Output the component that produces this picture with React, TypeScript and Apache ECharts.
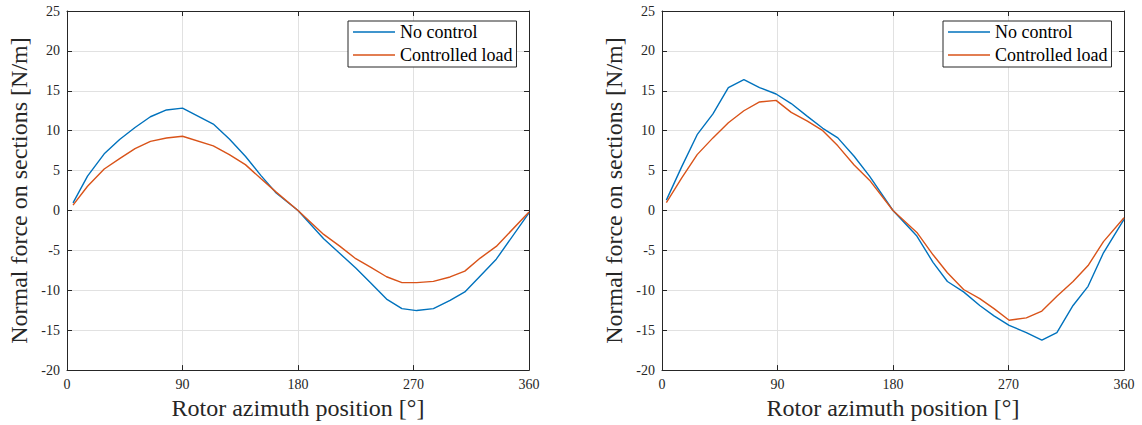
import React, { useEffect, useRef } from "react";
import * as echarts from "echarts";

// Rotor azimuth angles [deg] and normal force [N/m], left panel
const anglesLeft = [4.7, 16, 29, 41, 53, 65, 77.5, 90, 114, 126.5, 139, 151, 163, 180, 200, 212, 225, 236.5, 249, 261, 272.5, 285.5, 298.5, 310, 322, 334.5, 360];
const noControlLeft = [0.96, 4.3, 7.1, 8.9, 10.4, 11.75, 12.6, 12.83, 10.83, 8.96, 6.8, 4.4, 2.2, 0, -3.54, -5.3, -7.2, -9.04, -11.1, -12.3, -12.54, -12.3, -11.25, -10.2, -8.2, -6.1, -0.3];
const controlledLeft = [0.67, 3.04, 5.2, 6.5, 7.75, 8.67, 9.08, 9.3, 8.1, 7.0, 5.75, 4.0, 2.3, 0, -3.0, -4.4, -6.04, -7.1, -8.3, -9.04, -9.04, -8.88, -8.33, -7.6, -5.96, -4.5, -0.2];

// Right panel
const anglesRight = [3.4, 15.4, 27.4, 39.7, 51.7, 63.8, 76, 88.9, 100.7, 113.3, 125.3, 137, 149.7, 161.7, 180, 198.6, 211.2, 222.4, 235, 247.6, 258.7, 270.5, 283.9, 296, 307.7, 320.3, 332, 344, 360];
const noControlRight = [1.3, 5.5, 9.5, 12.1, 15.4, 16.4, 15.4, 14.6, 13.4, 11.8, 10.3, 9.1, 6.8, 4.3, 0, -3.2, -6.5, -8.9, -10.2, -11.9, -13.2, -14.4, -15.3, -16.25, -15.3, -11.9, -9.5, -5.3, -1.1];
const controlledRight = [1.0, 4.1, 7.0, 9.1, 11.0, 12.5, 13.6, 13.8, 12.3, 11.2, 10.0, 8.1, 5.7, 3.8, 0, -2.75, -5.55, -7.8, -9.9, -11.05, -12.3, -13.75, -13.45, -12.6, -10.75, -8.9, -6.9, -3.9, -0.9];

const xTicks = { min: 0, max: 360, interval: 90 };
const yTicks = { min: -20, max: 25, interval: 5 };

const seriesNames = ["No control", "Controlled load"];
const colors = ["#0072BD", "#D95319"];

const FONT = "Liberation Serif";
const AXIS_COLOR = "#262626";
const GRID_COLOR = "#e1e1e1";

const pairs = (xs: number[], ys: number[]) => xs.map((x, i) => [x, ys[i]]);

export default function App() {
  const ref = useRef<HTMLDivElement>(null);

  useEffect(() => {
    if (!ref.current) return;
    const chart = echarts.init(ref.current, undefined, { renderer: "svg" });

    const grids = [
      { left: 67, top: 11, width: 462, height: 361 },
      { left: 662, top: 11, width: 462, height: 361 },
    ];

    const frameLine = { show: true, onZero: false, lineStyle: { color: AXIS_COLOR, width: 1 } };
    const innerTick = { show: true, inside: true, length: 5, lineStyle: { color: AXIS_COLOR } };
    const tickLabel = { fontFamily: FONT, fontSize: 14, color: AXIS_COLOR, margin: 7 };
    const titleStyle = { fontFamily: FONT, fontSize: 24, color: AXIS_COLOR };

    const xAxis: any[] = [];
    const yAxis: any[] = [];
    grids.forEach((_, g) => {
      xAxis.push({
        type: "value",
        gridIndex: g,
        position: "bottom",
        ...xTicks,
        name: "Rotor azimuth position [°]",
        nameLocation: "middle",
        nameGap: 23,
        nameTextStyle: titleStyle,
        axisLine: frameLine,
        axisTick: innerTick,
        axisLabel: tickLabel,
        splitLine: { show: true, lineStyle: { color: GRID_COLOR, width: 1 } },
      });
      xAxis.push({
        type: "value",
        gridIndex: g,
        position: "top",
        ...xTicks,
        axisLine: frameLine,
        axisTick: innerTick,
        axisLabel: { show: false },
        splitLine: { show: false },
      });
      yAxis.push({
        type: "value",
        gridIndex: g,
        position: "left",
        ...yTicks,
        name: "Normal force on sections [N/m]",
        nameLocation: "middle",
        nameGap: 36,
        nameTextStyle: titleStyle,
        axisLine: frameLine,
        axisTick: innerTick,
        axisLabel: tickLabel,
        splitLine: { show: true, lineStyle: { color: GRID_COLOR, width: 1 } },
      });
      yAxis.push({
        type: "value",
        gridIndex: g,
        position: "right",
        ...yTicks,
        axisLine: frameLine,
        axisTick: innerTick,
        axisLabel: { show: false },
        splitLine: { show: false },
      });
    });

    const panels = [
      { x: anglesLeft, a: noControlLeft, b: controlledLeft },
      { x: anglesRight, a: noControlRight, b: controlledRight },
    ];

    const series: any[] = [];
    panels.forEach((p, g) => {
      [p.a, p.b].forEach((ys, k) => {
        series.push({
          type: "line",
          name: seriesNames[k],
          xAxisIndex: g * 2,
          yAxisIndex: g * 2,
          data: pairs(p.x, ys),
          symbol: "none",
          lineStyle: { color: colors[k], width: 1.4 },
          itemStyle: { color: colors[k] },
          z: 3 + k,
        });
      });
    });

    const legendBase = {
      orient: "vertical",
      top: 21,
      padding: [2, 4, 3, 5],
      itemGap: 5,
      itemWidth: 42,
      itemHeight: 1.5,
      icon: "rect",
      backgroundColor: "#ffffff",
      borderColor: AXIS_COLOR,
      borderWidth: 1,
      borderRadius: 0,
      selectedMode: false,
      data: seriesNames,
      textStyle: { fontFamily: FONT, fontSize: 18, color: "#000000", lineHeight: 18 },
    };

    chart.setOption({
      animation: false,
      backgroundColor: "#ffffff",
      grid: grids,
      xAxis,
      yAxis,
      legend: [
        { ...legendBase, left: 348 },
        { ...legendBase, left: 943 },
      ],
      series,
    });

    return () => chart.dispose();
  }, []);

  return (
    <div
      ref={ref}
      style={{ position: "fixed", left: 0, top: 0, width: 1142, height: 425 }}
    />
  );
}
